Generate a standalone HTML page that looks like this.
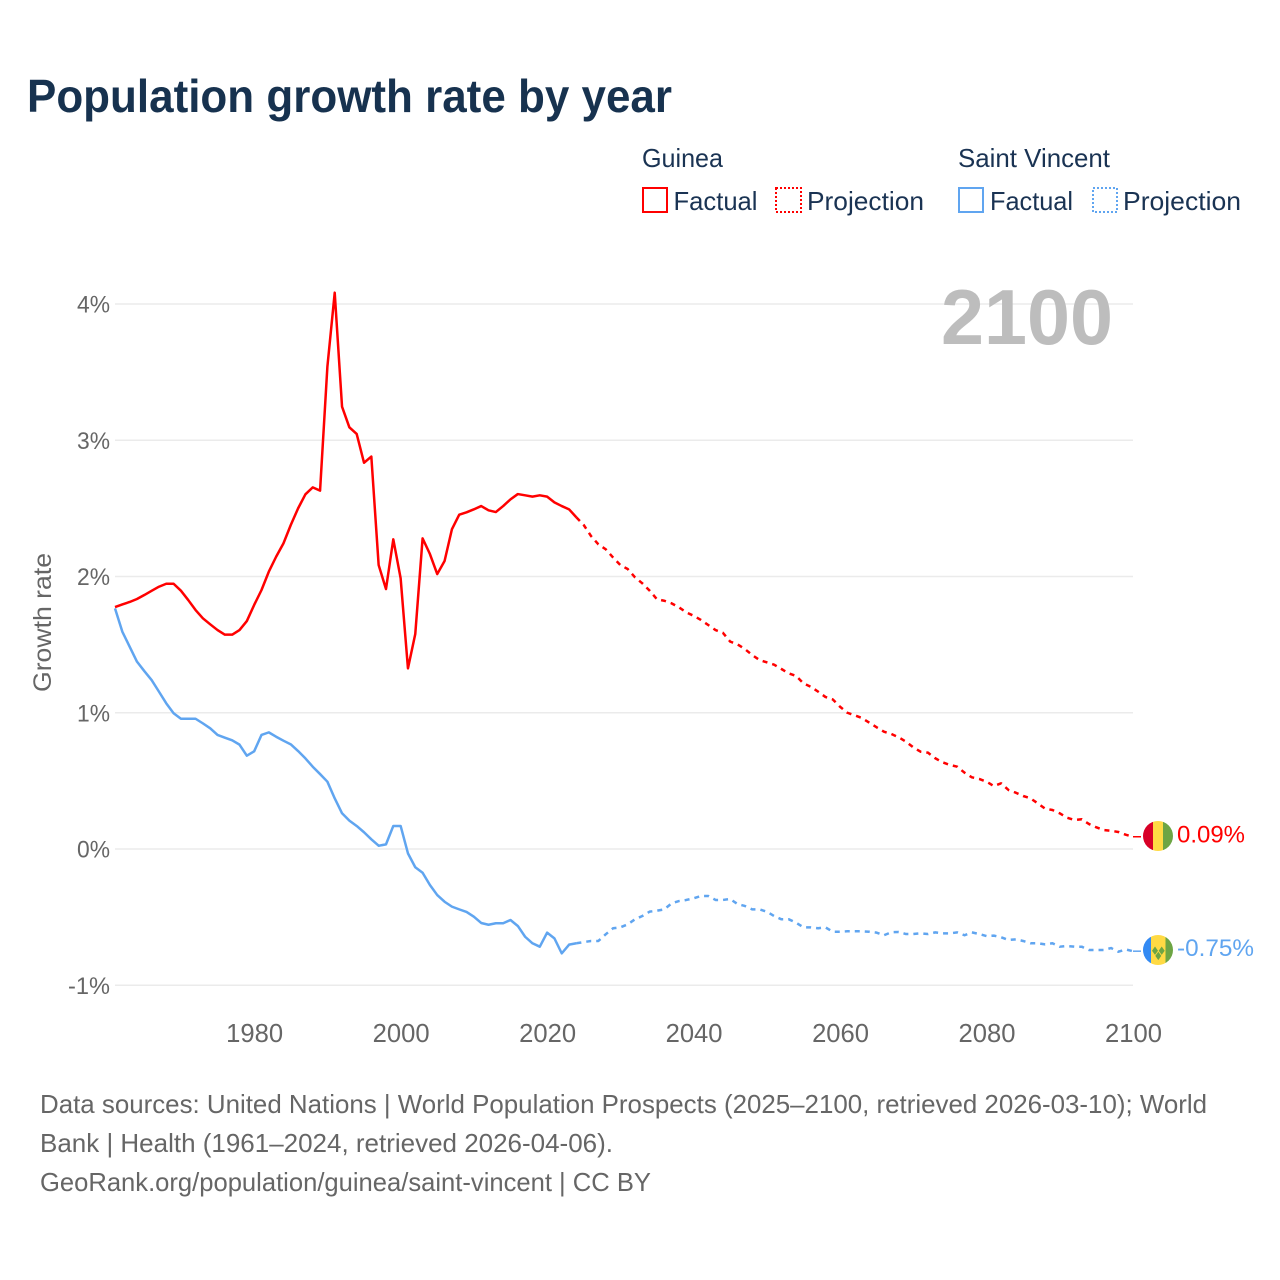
<!DOCTYPE html>
<html lang="en">
<head>
<meta charset="utf-8">
<title>Population growth rate by year</title>
<style>
html,body{margin:0;padding:0;background:#fff;}
svg{display:block;font-family:"Liberation Sans",sans-serif;}
</style>
</head>
<body>
<svg id="chart" xmlns="http://www.w3.org/2000/svg" width="1280" height="1280" viewBox="0 0 1280 1280">
  <rect x="0" y="0" width="1280" height="1280" fill="#fff"/>
  <text x="27" y="112" font-size="46" font-weight="700" fill="#17324f" textLength="645" lengthAdjust="spacingAndGlyphs">Population growth rate by year</text>

  <g font-size="26" fill="#1a3353">
    <text x="642" y="167" textLength="81" lengthAdjust="spacingAndGlyphs">Guinea</text>
    <text x="958" y="167" textLength="152" lengthAdjust="spacingAndGlyphs">Saint Vincent</text>
    <rect x="643" y="188" width="24" height="24" fill="none" stroke="#ff0000" stroke-width="2"/>
    <text x="673.5" y="210" textLength="84" lengthAdjust="spacingAndGlyphs">Factual</text>
    <rect x="776" y="188" width="25" height="24" fill="none" stroke="#ff0000" stroke-width="2" stroke-dasharray="2 2"/>
    <text x="807" y="210" textLength="117" lengthAdjust="spacingAndGlyphs">Projection</text>
    <rect x="959" y="188" width="24" height="24" fill="none" stroke="#60a5f0" stroke-width="2"/>
    <text x="990" y="210" textLength="83" lengthAdjust="spacingAndGlyphs">Factual</text>
    <rect x="1093" y="188" width="24" height="24" fill="none" stroke="#60a5f0" stroke-width="2" stroke-dasharray="2 2"/>
    <text x="1123" y="210" textLength="118" lengthAdjust="spacingAndGlyphs">Projection</text>
  </g>

  <g id="grid"></g>
  <text x="1113" y="344" text-anchor="end" font-size="78" font-weight="700" fill="#bdbdbd" textLength="172" lengthAdjust="spacingAndGlyphs">2100</text>
  <g id="yticks" font-size="24" fill="#666666" text-anchor="end"></g>
  <g id="xticks" font-size="25.6" fill="#666666" text-anchor="middle"></g>
  <text transform="translate(51,622.5) rotate(-90)" text-anchor="middle" font-size="25" fill="#666666" textLength="139" lengthAdjust="spacingAndGlyphs">Growth rate</text>

  <g id="series" fill="none" stroke-width="2.5" stroke-linejoin="round"></g>

  <g>
    <clipPath id="clip-g"><circle cx="1158" cy="836" r="15"/></clipPath>
    <g clip-path="url(#clip-g)">
      <rect x="1143" y="821" width="10" height="30" fill="#d80027"/>
      <rect x="1153" y="821" width="10" height="30" fill="#ffda44"/>
      <rect x="1163" y="821" width="10" height="30" fill="#6da544"/>
    </g>
  </g>
  <g>
    <clipPath id="clip-v"><circle cx="1158" cy="950" r="15"/></clipPath>
    <g clip-path="url(#clip-v)">
      <rect x="1143" y="935" width="8" height="30" fill="#338af3"/>
      <rect x="1151" y="935" width="14.5" height="30" fill="#ffda44"/>
      <rect x="1165.5" y="935" width="7.5" height="30" fill="#6da544"/>
      <path d="M1155 946.5l3 4.2-3 4.2-3-4.2zM1161.7 946.5l3 4.2-3 4.2-3-4.2zM1158.3 951.7l3 4.2-3 4.2-3-4.2z" fill="#6da544"/>
    </g>
  </g>
  <g id="endlabels" font-size="24"></g>

  <g font-size="26" fill="#666666">
    <text x="40" y="1113" textLength="1167" lengthAdjust="spacingAndGlyphs">Data sources: United Nations | World Population Prospects (2025–2100, retrieved 2026-03-10); World</text>
    <text x="40" y="1152" textLength="573" lengthAdjust="spacingAndGlyphs">Bank | Health (1961–2024, retrieved 2026-04-06).</text>
    <text x="40" y="1191" textLength="611" lengthAdjust="spacingAndGlyphs">GeoRank.org/population/guinea/saint-vincent | CC BY</text>
  </g>
</svg>
<script>
const xTickYears = [1980, 2000, 2020, 2040, 2060, 2080, 2100];
const yTickValues = [4, 3, 2, 1, 0, -1];
const firstFactualYear = 1961;
const firstProjectionYear = 2024;

const guineaFactual = [
  1.776,1.795,1.813,1.835,1.864,1.895,1.925,1.947,1.947,1.896,
  1.827,1.754,1.693,1.649,1.607,1.573,1.573,1.607,1.673,1.791,
  1.90,2.035,2.145,2.243,2.378,2.50,2.603,2.654,2.63,3.54,
  4.083,3.246,3.095,3.046,2.835,2.88,2.084,1.908,2.273,1.987,
  1.326,1.578,2.28,2.165,2.018,2.114,2.346,2.454,2.471,2.493,
  2.517,2.486,2.473,2.517,2.566,2.605,2.596,2.586,2.596,2.586,
  2.544,2.517,2.493,2.434
];
const guineaProjection = [
  2.434,2.378,2.297,2.236,2.2,2.14,2.084,2.055,1.994,1.95,
  1.896,1.833,1.822,1.803,1.774,1.737,1.712,1.681,1.644,1.607,
  1.587,1.522,1.502,1.468,1.424,1.387,1.37,1.353,1.321,1.289,
  1.27,1.216,1.191,1.155,1.116,1.098,1.044,1.0,0.981,0.961,
  0.927,0.893,0.861,0.844,0.82,0.788,0.746,0.714,0.707,0.666,
  0.636,0.617,0.604,0.56,0.526,0.514,0.494,0.462,0.482,0.433,
  0.413,0.389,0.372,0.335,0.296,0.286,0.262,0.23,0.213,0.218,
  0.183,0.159,0.139,0.134,0.125,0.105,0.09
];
const vincentFactual = [
  1.766,1.595,1.485,1.375,1.306,1.24,1.155,1.069,0.996,0.956,
  0.956,0.956,0.922,0.886,0.837,0.817,0.798,0.766,0.685,0.717,
  0.837,0.856,0.824,0.795,0.768,0.719,0.665,0.604,0.55,0.494,
  0.372,0.262,0.208,0.169,0.123,0.071,0.024,0.034,0.169,0.169,
  -0.032,-0.134,-0.174,-0.264,-0.338,-0.387,-0.423,-0.443,-0.462,-0.497,
  -0.543,-0.556,-0.545,-0.545,-0.521,-0.565,-0.644,-0.692,-0.717,-0.614,
  -0.656,-0.766,-0.702,-0.692
];
const vincentProjection = [
  -0.692,-0.683,-0.675,-0.675,-0.626,-0.582,-0.575,-0.553,-0.516,-0.492,
  -0.46,-0.453,-0.443,-0.399,-0.382,-0.374,-0.362,-0.345,-0.345,-0.374,
  -0.374,-0.367,-0.404,-0.418,-0.443,-0.443,-0.46,-0.492,-0.516,-0.516,
  -0.541,-0.575,-0.575,-0.582,-0.575,-0.607,-0.607,-0.604,-0.604,-0.604,
  -0.607,-0.614,-0.633,-0.611,-0.609,-0.624,-0.624,-0.619,-0.624,-0.612,
  -0.619,-0.619,-0.612,-0.633,-0.612,-0.624,-0.639,-0.636,-0.648,-0.668,
  -0.663,-0.675,-0.692,-0.692,-0.70,-0.692,-0.717,-0.712,-0.717,-0.717,
  -0.741,-0.741,-0.741,-0.727,-0.754,-0.737,-0.75
];
const guineaEndLabel = ['0.09%'];
const vincentEndLabel = ['-0.75%'];

const SVGNS = 'http://www.w3.org/2000/svg';
const RED = '#ff0000';
const BLUE = '#60a5f0';
function xScale(year) { return 115 + (year - 1961) * (1133 - 115) / 139; }
function yScale(v) { return 849 - v * 136.25; }

function make(tag, attrs, parent, text) {
  const el = document.createElementNS(SVGNS, tag);
  for (const k in attrs) el.setAttribute(k, attrs[k]);
  if (text !== undefined) el.textContent = text;
  parent.appendChild(el);
  return el;
}
function linePath(values, startYear) {
  return values.map(function (v, i) {
    return (i ? 'L' : 'M') + xScale(startYear + i).toFixed(2) + ' ' + yScale(v).toFixed(2);
  }).join('');
}

const grid = document.getElementById('grid');
const yticks = document.getElementById('yticks');
yTickValues.forEach(function (v) {
  const line = make('line', {x1: 115, x2: 1133, y1: yScale(v), y2: yScale(v), stroke: '#ebebeb', 'stroke-width': 1.5}, grid);
  
  
  const label = make('text', {x: 110, y: yScale(v) + 8.5, textLength: v < 0 ? 42 : 33, lengthAdjust: 'spacingAndGlyphs'}, yticks, v + '%');
  
  
});

const xticks = document.getElementById('xticks');
xTickYears.forEach(function (year) {
  const label = make('text', {x: xScale(year) + 0.5, y: 1042}, xticks, String(year));
  
  
});

const series = document.getElementById('series');
function drawSeries(name, color, factual, projection) {
  const solid = make('path', {d: linePath(factual, firstFactualYear), stroke: color}, series);
  
  
  const dashed = make('path', {d: linePath(projection, firstProjectionYear), stroke: color, 'stroke-dasharray': '5 5'}, series);
  
  
  const lastYear = firstProjectionYear + projection.length - 1;
  const lastV = projection[projection.length - 1];
  const stub = make('line', {x1: xScale(lastYear), x2: xScale(lastYear) + 8, y1: yScale(lastV), y2: yScale(lastV), stroke: color, 'stroke-width': 1.5}, series);
  
  
}
drawSeries('saint-vincent', BLUE, vincentFactual, vincentProjection);
drawSeries('guinea', RED, guineaFactual, guineaProjection);

const endlabels = document.getElementById('endlabels');
const guineaLabel = make('text', {x: 1177, y: yScale(guineaProjection[guineaProjection.length - 1]) + 6, fill: RED, textLength: 68, lengthAdjust: 'spacingAndGlyphs'}, endlabels, guineaEndLabel[0]);


const vincentLabel = make('text', {x: 1177, y: yScale(vincentProjection[vincentProjection.length - 1]) + 5, fill: BLUE, textLength: 77, lengthAdjust: 'spacingAndGlyphs'}, endlabels, vincentEndLabel[0]);


</script>
</body>
</html>
